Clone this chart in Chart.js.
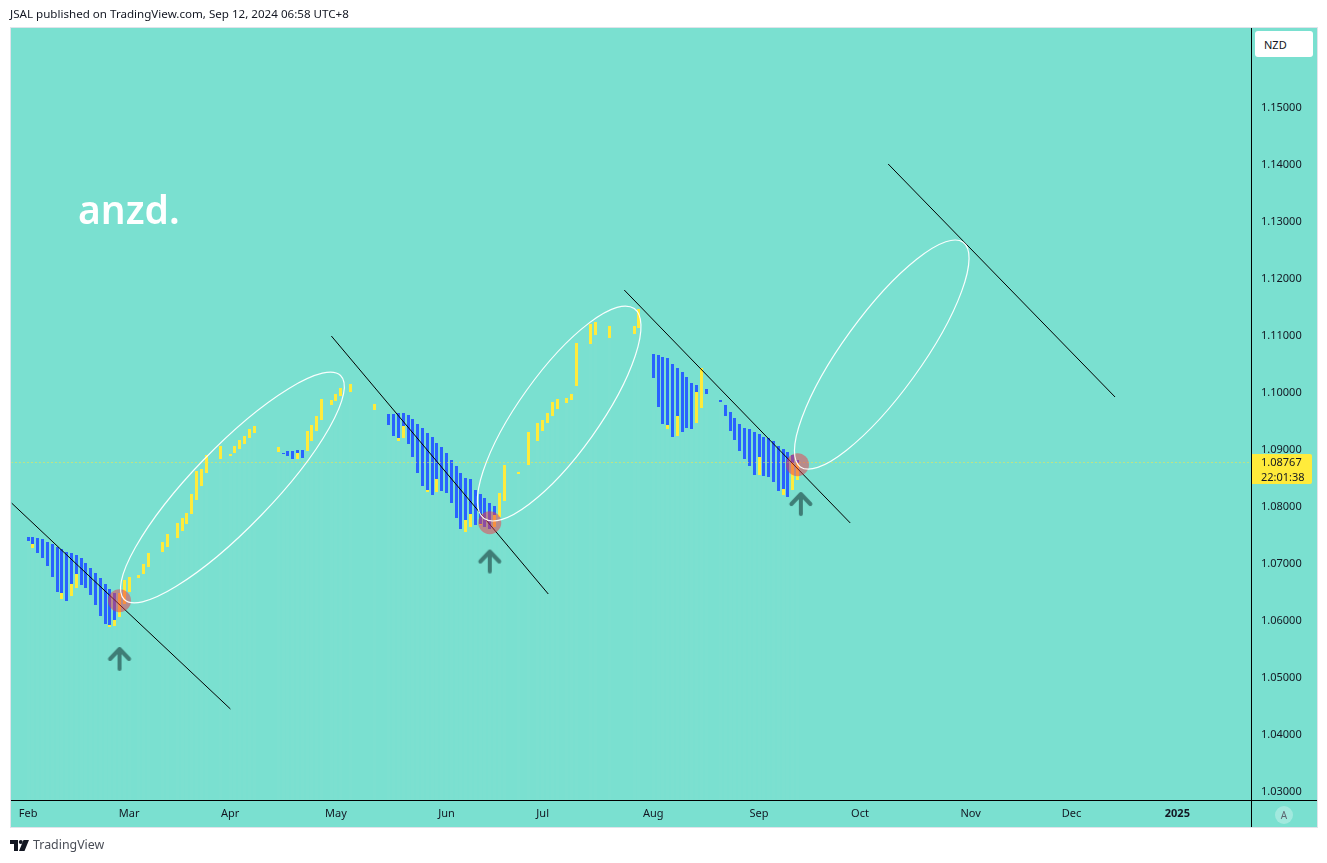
<!DOCTYPE html>
<html>
<head>
<meta charset="utf-8">
<title>anzd.</title>
<script src="https://cdn.jsdelivr.net/npm/chart.js@4"></script>
<style>
  html, body { margin: 0; padding: 0; background: #fff; }
  #wrap { position: relative; width: 1327px; height: 863px; overflow: hidden; font-family: "Noto Sans", sans-serif; }
  canvas { position: absolute; left: 0; top: 0; }
  .abs { position: absolute; white-space: nowrap; }
  #head { left: 10px; top: 6px; font-size: 11.6px; line-height: 16px; color: #131722; }
  #foot { left: 33px; top: 836px; font-size: 12.4px; line-height: 18px; color: #4a4e57; }
  #logo { left: 10px; top: 840px; }
  #title { left: 78px; top: 183px; font-size: 39px; line-height: 52px; font-weight: 600; color: #fff; }
  #nzd { left: 1255px; top: 31px; width: 49px; height: 26px; padding-left: 9px; background: #fff; border-radius: 3px; font-size: 11px; line-height: 27px; color: #131722; }
  #auto { left: 1275px; top: 806px; width: 18px; height: 18px; border-radius: 9px; background: rgba(255,255,255,.3); font-size: 10px; line-height: 18px; text-align: center; color: #5d6670; }
</style>
</head>
<body>
<div id="wrap">
  <canvas id="chart" width="1327" height="863"></canvas>
  <div class="abs" id="head">JSAL published on TradingView.com, Sep 12, 2024 06:58 UTC+8</div>
  <div class="abs" id="title">anzd.</div>
  <div class="abs" id="nzd">NZD</div>
  <div class="abs" id="auto">A</div>
  <svg class="abs" id="logo" width="20" height="12" viewBox="0 0 20 12">
    <path d="M0 0h8v11H4V4H0z M13.5 0h5.5l-4.5 11H9z" fill="#131722"/><circle cx="10.8" cy="2" r="2" fill="#131722"/>
  </svg>
  <div class="abs" id="foot">TradingView</div>
</div>
<script>
// x is the trading day counted from Feb 1 2024
const blueDays = [0,1,2,3,4,5,6,7,8,9,10,11,12,13,14,15,16,17,18,
  53,54,55,56,57,
  75,76,77,78,79,80,81,82,83,84,85,86,87,88,89,90,91,92,93,94,95,96,97,
  130,131,132,133,134,135,136,137,138,139,141,144,145,146,147,148,149,150,151,152,153,154,155,156,157,158,159,160];
const blueTops = [1.07456,1.07456,1.07438,1.07421,1.07368,1.07333,1.07281,1.07246,1.07193,1.07175,1.07140,1.07088,1.07000,1.06912,1.06825,1.06737,1.06632,1.06544,1.06474,
  1.08930,1.08965,1.08965,1.08982,1.08982,
  1.09614,1.09614,1.09631,1.09631,1.09596,1.09526,1.09438,1.09368,1.09281,1.09210,1.09105,1.09035,1.08930,1.08807,1.08702,1.08579,1.08491,1.08474,1.08281,1.08211,1.08140,1.08053,1.08000,
  1.10667,1.10649,1.10614,1.10596,1.10491,1.10421,1.10351,1.10263,1.10158,1.10123,1.10053,1.09860,1.09772,1.09649,1.09544,1.09438,1.09368,1.09351,1.09298,1.09263,1.09210,1.09193,1.09140,1.09053,1.09000,1.08947,1.08895,1.08807];
const blueBottoms = [1.07386,1.07333,1.07175,1.07088,1.06947,1.06754,1.06491,1.06474,1.06333,1.06632,1.06807,1.06614,1.06561,1.06439,1.06263,1.06070,1.05930,1.05912,1.06000,
  1.08912,1.08877,1.08825,1.08930,1.08842,
  1.09421,1.09228,1.09193,1.09403,1.09088,1.08860,1.08579,1.08351,1.08281,1.08193,1.08474,1.08263,1.08228,1.08053,1.07789,1.07596,1.07754,1.07860,1.07667,1.07684,1.07632,1.07596,1.07842,
  1.10245,1.09737,1.09438,1.09421,1.09210,1.09579,1.09298,1.09368,1.09351,1.10000,1.09965,1.09824,1.09579,1.09316,1.09158,1.08965,1.08825,1.08702,1.08544,1.08860,1.08526,1.08509,1.08421,1.08263,1.08298,1.08158,1.08754,1.08754];

const yellowDays = [1,7,9,10,17,18,19,20,21,23,24,25,28,29,31,32,33,34,35,36,37,40,42,43,44,45,46,47,
  52,56,58,59,60,61,63,64,65,67,72,77,78,83,85,91,92,94,97,98,99,102,104,106,107,108,109,110,112,113,114,117,118,121,126,127,
  133,135,139,140,152,157,159,160];
const yellowTops = [1.07333,1.06474,1.06632,1.06807,1.05912,1.06000,1.06474,1.06702,1.06754,1.06789,1.06982,1.07175,1.07368,1.07509,1.07702,1.07789,1.07877,1.08211,1.08614,1.08649,1.08895,1.09053,1.08912,1.09053,1.09158,1.09228,1.09351,1.09403,
  1.09035,1.08930,1.09316,1.09421,1.09579,1.09877,1.09860,1.09965,1.10070,1.10140,1.09789,1.09193,1.09403,1.08281,1.08474,1.07754,1.07860,1.07684,1.07842,1.08228,1.08719,1.08596,1.09298,1.09456,1.09509,1.09631,1.09824,1.09877,1.09895,1.09965,1.10860,1.11193,1.11228,1.11158,1.11158,1.11456,
  1.09421,1.09579,1.10000,1.10421,1.08860,1.08298,1.08754,1.08754];
const yellowBottoms = [1.07263,1.06368,1.06421,1.06561,1.05877,1.05895,1.06053,1.06281,1.06491,1.06737,1.06807,1.06930,1.07193,1.07281,1.07438,1.07561,1.07684,1.07860,1.08105,1.08351,1.08579,1.08825,1.08877,1.08930,1.09000,1.09088,1.09193,1.09281,
  1.08947,1.08825,1.08965,1.09140,1.09316,1.09509,1.09772,1.09842,1.09930,1.10000,1.09684,1.09140,1.09193,1.08246,1.08246,1.07544,1.07632,1.07667,1.07632,1.07807,1.08088,1.08561,1.08719,1.09140,1.09316,1.09456,1.09579,1.09702,1.09807,1.09860,1.10105,1.10842,1.11000,1.10947,1.11017,1.11123,
  1.09351,1.09228,1.09456,1.09719,1.08544,1.08193,1.08281,1.08456];

const lastPrice = 1.08767;
const countdown = '22:01:38';

const monthDays = [0,21,42,64,87,107,130,152,173,196,217,239];
const monthLabels = ['Feb','Mar','Apr','May','Jun','Jul','Aug','Sep','Oct','Nov','Dec','2025'];
const priceTicks = [1.03,1.04,1.05,1.06,1.07,1.08,1.09,1.10,1.11,1.12,1.13,1.14,1.15];

const dayMin = -3.47, dayMax = 254.32;
const priceMin = 1.02842, priceMax = 1.16386;

// drawings, [start, end] in day / price
const trendDays = [[-3.47,42.06],[63.06,108.17],[123.97,170.97],[178.86,226.05]];
const trendPrices = [[1.08053,1.04439],[1.10982,1.06456],[1.11789,1.07702],[1.14000,1.09912]];
const ellipseDays = [[19.98,64.97],[94.82,126.05],[160.6,194.45]];
const ellipsePrices = [[1.06360,1.10289],[1.07782,1.11463],[1.08686,1.12626]];
const ellipseWidths = [40,40,39];
const circleDays = [19,96,160];
const circlePrices = [1.06338,1.07707,1.08724];
const arrowDays = [19,96,160.7];
const arrowPrices = [1.05316,1.07026,1.08035];

const teal = '#7ae0d0';
const labelFont = '"Noto Sans", sans-serif';

function bars(days, tops, bottoms) {
  return days.map((d, i) => ({ x: d, y: [bottoms[i], tops[i]] }));
}

function makeArrow() {
  const c = document.createElement('canvas');
  c.width = 28;
  c.height = 30;
  const g = c.getContext('2d');
  g.strokeStyle = '#3f7d76';
  g.lineWidth = 4;
  g.lineCap = 'round';
  g.lineJoin = 'round';
  g.beginPath();
  g.moveTo(14, 5);
  g.lineTo(14, 25);
  g.moveTo(4.5, 15);
  g.lineTo(14, 5);
  g.lineTo(23.5, 15);
  g.stroke();
  return c;
}

// faint stripes under the bars, one per day
const shade = bars(blueDays, blueBottoms, blueBottoms)
  .concat(bars(yellowDays, yellowBottoms, yellowBottoms).filter(b => !blueDays.includes(b.x)))
  .map(b => ({ x: b.x, y: [priceMin, b.y[0]] }));

const barStyle = { type: 'bar', grouped: false, inflateAmount: 0 };

const datasets = [
  { ...barStyle, data: shade, backgroundColor: 'rgba(255,255,255,0.02)', order: 9 },
  { ...barStyle, data: bars(blueDays, blueTops, blueBottoms), backgroundColor: '#2962ff', order: 8 },
  { ...barStyle, data: bars(yellowDays, yellowTops, yellowBottoms), backgroundColor: '#ffeb3b', order: 7 },
  { type: 'scatter', data: [{ x: dayMin, y: lastPrice }, { x: dayMax, y: lastPrice }], showLine: true, borderColor: '#ffeb3b', borderWidth: 1, borderDash: [1, 3], pointRadius: 0, order: 6, snapY: true },
  { type: 'bubble', data: circleDays.map((d, i) => ({ x: d, y: circlePrices[i], r: 11.5 })), backgroundColor: 'rgba(242,54,69,0.5)', borderWidth: 0, order: 4 },
  { type: 'scatter', data: arrowDays.map((d, i) => ({ x: d, y: arrowPrices[i] })), pointStyle: makeArrow(), order: 3 }
];
trendDays.forEach((days, i) => {
  datasets.push({
    type: 'scatter',
    data: [{ x: days[0], y: trendPrices[i][0] }, { x: days[1], y: trendPrices[i][1] }],
    showLine: true, borderColor: '#000', borderWidth: 1, pointRadius: 0, order: 5
  });
});

const framePlugin = {
  id: 'frame',
  beforeDraw(chart) {
    const ctx = chart.ctx;
    ctx.save();
    ctx.fillStyle = teal;
    ctx.fillRect(10, 27, 1307, 800);
    ctx.strokeStyle = '#dfe3ea';
    ctx.strokeRect(10.5, 27.5, 1307, 800);
    ctx.restore();
  },
  // bars and the price line sit on whole pixels like the original
  beforeDatasetsDraw(chart) {
    chart.data.datasets.forEach((ds, i) => {
      const meta = chart.getDatasetMeta(i);
      if (ds.snapY) {
        meta.data.forEach(el => { el.y = Math.floor(el.y) + 0.5; });
      }
      if (meta.type !== 'bar') return;
      meta.data.forEach(el => {
        el.x = Math.floor(el.x) + 0.5;
        el.y = Math.round(el.y);
        el.base = Math.round(el.base);
        el.width = 3;
      });
    });
  },
  afterDatasetsDraw(chart) {
    const { ctx, chartArea } = chart;
    const xs = chart.scales.x, ys = chart.scales.y;
    ctx.save();
    ctx.beginPath();
    ctx.rect(chartArea.left, chartArea.top, chartArea.width, chartArea.height);
    ctx.clip();
    ctx.strokeStyle = 'rgba(255,255,255,0.95)';
    ctx.lineWidth = 1.2;
    ellipseDays.forEach((days, i) => {
      const x0 = xs.getPixelForValue(days[0]), x1 = xs.getPixelForValue(days[1]);
      const y0 = ys.getPixelForValue(ellipsePrices[i][0]), y1 = ys.getPixelForValue(ellipsePrices[i][1]);
      ctx.beginPath();
      ctx.ellipse((x0 + x1) / 2, (y0 + y1) / 2, Math.hypot(x1 - x0, y1 - y0) / 2, ellipseWidths[i], Math.atan2(y1 - y0, x1 - x0), 0, Math.PI * 2);
      ctx.stroke();
    });
    ctx.restore();
  },
  afterDraw(chart) {
    const ctx = chart.ctx;
    const ys = chart.scales.y;
    // axis lines run past the plot into the scale boxes
    ctx.save();
    ctx.fillStyle = '#000';
    ctx.fillRect(1251, 28, 1, 799);
    ctx.fillRect(11, 800, 1306, 1);
    // last price tag
    const py = Math.round(ys.getPixelForValue(lastPrice));
    ctx.fillStyle = '#ffeb3b';
    ctx.beginPath();
    ctx.roundRect(1252, py - 8, 60, 30, [0, 2, 2, 0]);
    ctx.fill();
    ctx.fillStyle = '#131722';
    ctx.font = '11px ' + labelFont;
    ctx.textBaseline = 'middle';
    ctx.textAlign = 'left';
    ctx.fillText(lastPrice.toFixed(5), 1261, py + 1);
    ctx.fillText(countdown, 1261, py + 16);
    ctx.restore();
  }
};

new Chart(document.getElementById('chart'), {
  type: 'bar',
  data: { datasets },
  plugins: [framePlugin],
  options: {
    responsive: false,
    animation: false,
    events: [],
    layout: { padding: { left: 11, top: 28, right: 10, bottom: 36 } },
    plugins: { legend: { display: false }, tooltip: { enabled: false } },
    scales: {
      x: {
        type: 'linear',
        offset: false,
        min: dayMin,
        max: dayMax,
        grid: { display: false, drawTicks: false },
        border: { display: false },
        afterBuildTicks: s => { s.ticks = monthDays.map(v => ({ value: v })); },
        afterFit: s => { s.height = 27; },
        ticks: {
          autoSkip: false,
          maxRotation: 0,
          padding: 7,
          color: '#131722',
          font: ctx => ({ family: labelFont, size: 11, weight: ctx.tick && ctx.tick.value === 239 ? 'bold' : 'normal' }),
          callback: v => monthLabels[monthDays.indexOf(v)]
        }
      },
      y: {
        position: 'right',
        min: priceMin,
        max: priceMax,
        grid: { display: false, drawTicks: false },
        border: { display: false },
        afterBuildTicks: s => { s.ticks = priceTicks.map(v => ({ value: v })); },
        afterFit: s => { s.width = 66; },
        ticks: {
          autoSkip: false,
          padding: 10,
          labelOffset: 1,
          crossAlign: 'near',
          color: '#131722',
          font: { family: labelFont, size: 11 },
          callback: v => v.toFixed(5)
        }
      }
    }
  }
});
</script>
</body>
</html>
